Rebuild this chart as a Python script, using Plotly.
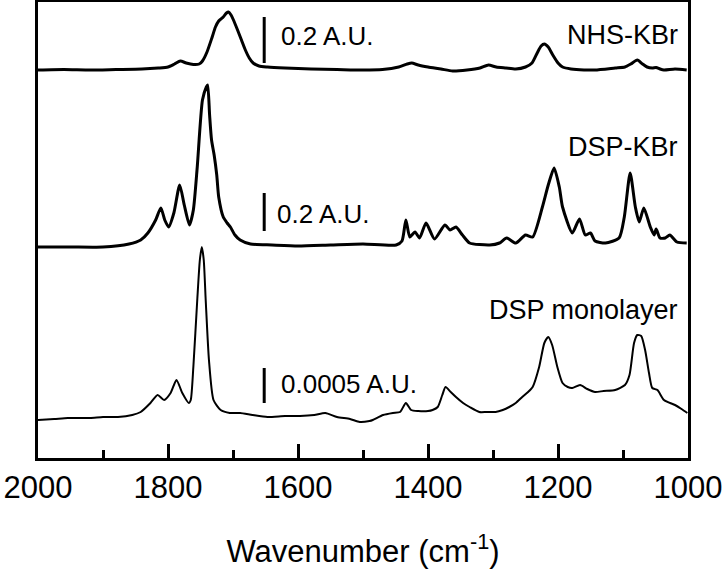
import plotly.graph_objects as go

# wavenumber (cm-1) and relative absorbance (arbitrary display units)
nhs_wn = [2000, 1960, 1920, 1880, 1840, 1815, 1800, 1790, 1781, 1772, 1761, 1752, 1747, 1740,
          1732, 1727, 1722, 1715, 1710, 1707, 1703, 1700, 1693, 1687, 1681, 1675, 1669, 1660,
          1647, 1620, 1580, 1540, 1500, 1470, 1445, 1432, 1425, 1415, 1400, 1380, 1362, 1340,
          1320, 1307, 1295, 1280, 1265, 1250, 1240, 1232, 1226, 1221, 1215, 1208, 1200, 1193,
          1180, 1160, 1143, 1112, 1097, 1088, 1078, 1070, 1063, 1055, 1049, 1043, 1037, 1020,
          1002]
nhs_abs = [0, 0.5, 0, 0.5, 1, 2, 3, 6, 9, 7, 5.5, 6, 9, 18,
           33, 43, 49, 53, 57, 58, 55, 51, 40, 30, 20, 12, 7, 4,
           3, 2, 1, 0.5, 0, 0.5, 3, 6, 7, 5, 3, 1, -1, 0,
           2, 5, 3, 2, 1, 3, 7, 17, 24, 26, 23, 15, 7, 3,
           1, 0, 0, 2, 3, 6, 10, 6, 3, 2, 2.5, 1, 0, 1,
           0]

dsp_wn = [2000, 1950, 1900, 1860, 1842, 1831, 1819, 1811, 1805, 1799, 1791, 1782, 1775, 1767,
          1761, 1755, 1747, 1741, 1739, 1736, 1733, 1729, 1725, 1722, 1715, 1709, 1704, 1697,
          1689, 1673, 1640, 1600, 1550, 1500, 1449, 1440, 1434, 1428, 1420, 1413, 1403, 1390,
          1374, 1366, 1357, 1347, 1336, 1305, 1290, 1279, 1265, 1250, 1239, 1224, 1215, 1206,
          1198, 1193, 1178, 1167, 1158, 1150, 1143, 1127, 1106, 1098, 1089, 1081, 1075, 1068,
          1058, 1052, 1049, 1043, 1035, 1028, 1017, 1002]
dsp_abs = [-2, -2, -2, 1, 5, 12, 25, 37, 25, 18, 32, 60, 40, 20,
           35, 78, 145, 158, 160, 130, 105, 90, 70, 48, 28, 22, 18, 10,
           5, 1, 0, -1, 0, 1, 0, 4, 25, 8, 13, 7, 22, 6,
           20, 15, 18, 10, 2, 0, 2, 7, 2, 10, 8, 38, 60, 77,
           58, 38, 12, 26, 10, 12, 4, 2, 7, 28, 72, 38, 23, 37,
           18, 10, 16, 7, 7, 10, 3, 2]

mono_wn = [2000, 1975, 1954, 1920, 1900, 1877, 1855, 1842, 1827, 1816, 1806, 1796, 1787, 1778,
           1768, 1765, 1761, 1755, 1751, 1748, 1745, 1742, 1737, 1730, 1719, 1705, 1689, 1670,
           1647, 1620, 1597, 1575, 1558, 1540, 1520, 1505, 1490, 1485, 1469, 1454, 1443, 1434,
           1426, 1415, 1400, 1393, 1385, 1378, 1373, 1365, 1357, 1346, 1336, 1321, 1310, 1296,
           1285, 1275, 1265, 1255, 1246, 1239, 1229, 1221, 1215, 1209, 1201, 1193, 1185, 1178,
           1166, 1155, 1143, 1130, 1112, 1097, 1090, 1083, 1078, 1072, 1066, 1060, 1055, 1047,
           1037, 1020, 1010, 1001]
mono_abs = [0, 1, 2, 2, 3, 3, 5, 8, 17, 25, 20, 27, 40, 27,
            17, 20, 53, 120, 160, 173, 160, 120, 60, 20, 10, 7, 7, 5,
            3, 4, 4, 5, 7, 3, 1, -2, -1, 0, 5, 7, 8, 17,
            10, 9, 9, 10, 13, 25, 33, 28, 23, 17, 13, 8, 8, 8,
            10, 13, 17, 23, 28, 33, 53, 77, 83, 75, 53, 37, 33, 32,
            35, 31, 28, 29, 30, 35, 45, 77, 85, 84, 70, 47, 32, 30,
            20, 15, 11, 7]

labels = ['NHS-KBr', 'DSP-KBr', 'DSP monolayer']
scale_labels = ['0.2 A.U.', '0.2 A.U.', '0.0005 A.U.']

# vertical stacking of the three spectra (display units)
offsets = [388, 213, 38]
widths = [3, 3, 2]

fig = go.Figure()
for wn, ab, off, w in zip([nhs_wn, dsp_wn, mono_wn], [nhs_abs, dsp_abs, mono_abs], offsets, widths):
    fig.add_trace(go.Scatter(x=wn, y=[v + off for v in ab], mode='lines',
                             line=dict(color='black', width=w, shape='spline', smoothing=0.6),
                             hoverinfo='skip', showlegend=False))

# scale bars
bars = [(441, 395), (265, 227), (90, 55)]
for y0, y1 in bars:
    fig.add_shape(type='line', x0=1652, x1=1652, y0=y0, y1=y1, xref='x', yref='y',
                  line=dict(color='black', width=3))

for txt, x, y in zip(scale_labels, [1630, 1635, 1630], [422, 244, 74]):
    fig.add_annotation(x=x, y=y, text=txt, showarrow=False, xanchor='left', yanchor='middle',
                       font=dict(size=26, color='black'))

for txt, y in zip(labels, [423, 311, 148]):
    fig.add_annotation(x=1012, y=y, text=txt, showarrow=False, xanchor='right', yanchor='middle',
                       font=dict(size=27, color='black'))

fig.update_layout(width=726, height=580,
                  margin={"r": 38, "t": 2, "l": 38, "b": 122},
                  template='plotly_white',
                  plot_bgcolor='white',
                  paper_bgcolor='white',
                  font=dict(family='Liberation Sans, Arial, sans-serif', color='black'))

fig.update_xaxes(range=[2000, 1000], showline=True, linecolor='black', linewidth=2.5, mirror=True,
                 ticks='inside', ticklen=14, tickwidth=2.5, tickcolor='black',
                 tick0=1000, dtick=200, tickfont=dict(size=31), automargin=False,
                 ticklabeloverflow='allow',
                 minor=dict(ticks='inside', ticklen=8, tickwidth=2.5, tickcolor='black', dtick=100),
                 showgrid=False, zeroline=False,
                 title=dict(text='Wavenumber (cm<sup>-1</sup>)', font=dict(size=31), standoff=37))

fig.update_yaxes(range=[0, 456], showline=True, linecolor='black', linewidth=2.5, mirror=True,
                 ticks='', showticklabels=False, showgrid=False, zeroline=False, automargin=False)

# drop the default page margin so the figure sits at the window's corner
fig.write_html("out.html", config={'displayModeBar': False},
               post_script="document.body.style.margin = '0';")
